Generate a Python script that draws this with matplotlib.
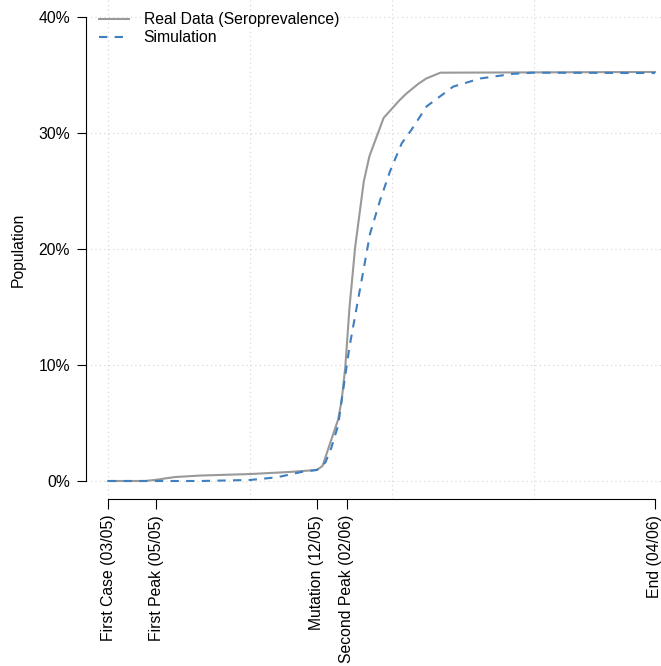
import matplotlib
matplotlib.use("Agg")
import matplotlib.pyplot as plt
import numpy as np

plt.rcParams['font.family'] = ['Liberation Sans', 'DejaVu Sans']

# time axis in days since first case
event_days = [0, 34, 147, 168, 385]
event_labels = ["First Case (03/05)", "First Peak (05/05)", "Mutation (12/05)",
                "Second Peak (02/06)", "End (04/06)"]

# real data (seroprevalence), percent of population
real_days = [0, 26, 33, 47, 65, 100, 128, 147, 151, 157, 162, 164.5, 167, 170,
             174, 180, 184, 194, 205, 210, 218, 224, 234, 385]
real_pct = [0, 0, 0.09, 0.34, 0.47, 0.6, 0.78, 0.95, 1.3, 3.5, 5.3, 7.0, 9.8, 15.0,
            20.2, 25.8, 28.0, 31.3, 32.8, 33.4, 34.2, 34.7, 35.2, 35.26]

# simulation
sim_days = [0, 65, 100, 119, 137, 147, 153, 157, 162, 164.5, 170, 178.5, 184.5,
            191.5, 198.5, 206.7, 213.7, 224.3, 243, 262, 285, 299, 385]
sim_pct = [0, 0, 0.09, 0.32, 0.8, 0.95, 1.6, 2.8, 4.8, 7.0, 11.6, 17.3, 21.35,
           24.2, 26.7, 29.1, 30.3, 32.3, 34.0, 34.7, 35.1, 35.2, 35.17]

y_ticks = [0, 10, 20, 30, 40]
grid_days = [0, 100, 200, 300, 400]

W, H = 661, 666
fig = plt.figure(figsize=(W / 100, H / 100), dpi=100)
# axes box in pixels: left 86, right 680, top 0, bottom 499
ax = fig.add_axes([86 / W, (H - 499) / H, (680 - 86) / W, 499 / H])

px_day = 547 / 385.0
px_pct = 11.6
ax.set_xlim(-22 / px_day, (680 - 108) / px_day)
ax.set_ylim(-18 / px_pct, 481 / px_pct)

# dotted light-gray grid like R's grid()
for g in grid_days:
    ax.axvline(g, color="#d3d3d3", lw=0.8, ls=(0, (1, 3)), zorder=0)
for g in y_ticks:
    ax.axhline(g, color="#d3d3d3", lw=0.8, ls=(0, (1, 3)), zorder=0)

ax.plot(np.array(real_days), np.array(real_pct), color="#999999", lw=1.5,
        label="Real Data (Seroprevalence)", zorder=3)
ax.plot(np.array(sim_days), np.array(sim_pct), color="#3F7EBF", lw=1.5,
        ls=(0, (4, 3.5)), label="Simulation", zorder=4)

for s in ["top", "right"]:
    ax.spines[s].set_visible(False)
ax.spines["left"].set_bounds(0, 40)
ax.spines["bottom"].set_bounds(0, 385)
ax.spines["left"].set_linewidth(0.8)
ax.spines["bottom"].set_linewidth(0.8)

ax.set_xticks(event_days)
ax.set_xticklabels(event_labels, rotation=90, fontsize=11.3)
ax.set_yticks(y_ticks)
ax.set_yticklabels([f"{v}%" for v in y_ticks], fontsize=11.3)
ax.tick_params(axis="x", length=7.2, width=0.8, pad=4.3)
ax.tick_params(axis="y", length=6.5, width=0.8, pad=5)

ax.set_ylabel("Population", fontsize=11.3)
ax.yaxis.set_label_coords(-0.102, 0.5)

ax.legend(loc="upper left", bbox_to_anchor=((99 - 86) / 594, (499 - 12) / 499),
          frameon=False, fontsize=11.3, borderpad=0, borderaxespad=0,
          handlelength=1.9, handletextpad=0.95, labelspacing=0.22)

fig.savefig("out.png", dpi=100)
